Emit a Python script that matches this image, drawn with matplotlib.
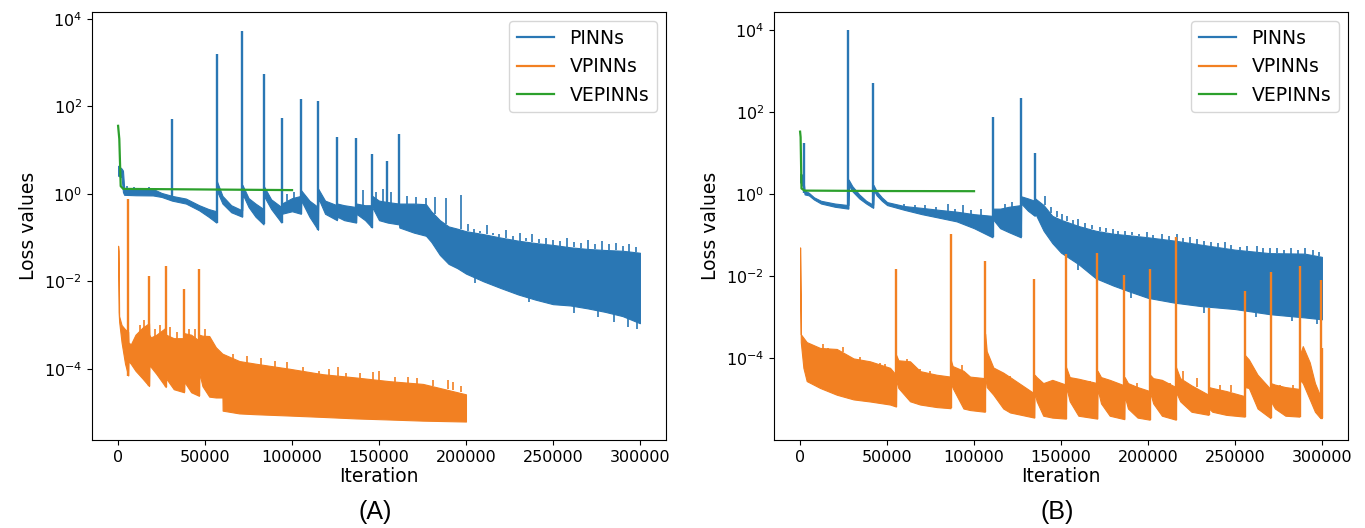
import matplotlib
matplotlib.use("Agg")
import matplotlib.pyplot as plt
from matplotlib.lines import Line2D
from matplotlib.ticker import NullLocator

# ---------------- panel (A) ----------------
# PINNs: band of the noisy loss (lower / upper edge) read at checkpoints
a_pinn_x = [0, 2000, 2800, 3500, 10000, 20000, 25000, 31000, 39000, 46600, 52000, 56500,
            56700, 60000, 65000, 71300,
            71500, 75000, 79000, 83600,
            83800, 88000, 93900,
            94100, 100000, 105100,
            105300, 110000, 114900,
            115100, 119000, 125800,
            126000, 130000, 136800,
            137000, 142000, 145900,
            146100, 150000, 155000, 161500,
            161700, 170000, 177000, 180000, 185000, 190000, 195000, 200000, 210000,
            220000, 230000, 240000, 250000, 260000, 270000, 280000, 290000, 300000]
a_pinn_lo = [2.6, 2.4, 1.1, 0.95, 0.93, 0.92, 0.85, 0.7, 0.6, 0.42, 0.3, 0.22,
             1.2, 0.6, 0.38, 0.3,
             1.0, 0.5, 0.3, 0.2,
             0.9, 0.45, 0.22,
             0.35, 0.4, 0.35,
             0.7, 0.3, 0.15,
             0.8, 0.35, 0.25,
             0.3, 0.25, 0.22,
             0.35, 0.25, 0.17,
             0.5, 0.25, 0.22, 0.2,
             0.17, 0.13, 0.11, 0.08, 0.04, 0.025, 0.02, 0.015, 0.01,
             0.007, 0.005, 0.0038, 0.003, 0.0028, 0.0024, 0.002, 0.0016, 0.0011]
a_pinn_hi = [4.4, 3.8, 3.4, 1.35, 1.3, 1.3, 1.05, 0.9, 0.78, 0.55, 0.45, 0.4,
             2.0, 0.9, 0.55, 0.42,
             1.6, 0.8, 0.6, 0.45,
             1.5, 0.75, 0.5,
             0.6, 0.8, 0.9,
             1.2, 0.7, 0.5,
             1.3, 0.7, 0.55,
             0.6, 0.55, 0.5,
             0.6, 0.55, 0.55,
             0.9, 0.7, 0.65, 0.6,
             0.6, 0.6, 0.58, 0.4, 0.25, 0.18, 0.16, 0.14, 0.12,
             0.1, 0.085, 0.075, 0.068, 0.06, 0.055, 0.052, 0.05, 0.045]
a_pinn_spike_x = [31100, 56600, 71400, 83700, 94000, 105200, 115000, 125900, 136900, 146000, 154700, 161600]
a_pinn_spike_top = [52, 1600, 5400, 560, 53, 147, 130, 20, 18.8, 8.1, 5.7, 23]
a_pinn_spike_base = [0.7, 0.22, 0.3, 0.2, 0.22, 0.35, 0.15, 0.25, 0.22, 0.17, 0.22, 0.2]
# small flickers on the band edges (top, bottom)
a_pinn_tick_x = [5000, 9000, 14000, 18000, 22000, 97000, 101000, 141000, 148500, 152200, 157000, 166000,
                 171000, 177000, 182000, 188700, 197000,
                 201000, 204500, 208000, 212000, 215500, 219000, 223000, 227000, 231000, 234500,
                 238000, 242000, 246000, 250000, 254000, 258000, 262000, 266000, 270000, 274000,
                 278000, 282000, 286000, 290000, 294000, 298000,
                 205000, 236000, 262000, 276000, 285000, 293000, 298500]
a_pinn_tick_top = [1.5, 1.4, 1.3, 1.45, 1.3, 1.0, 1.1, 1.2, 1.1, 1.3, 1.1, 0.9,
                   0.85, 0.8, 0.85, 0.8, 0.95,
                   0.2, 0.16, 0.14, 0.19, 0.13, 0.12, 0.15, 0.11, 0.13, 0.1,
                   0.12, 0.095, 0.1, 0.09, 0.085, 0.1, 0.08, 0.075, 0.09, 0.07,
                   0.085, 0.07, 0.075, 0.065, 0.07, 0.06,
                   0.013, 0.0045, 0.0027, 0.0022, 0.002, 0.0015, 0.0012]
a_pinn_tick_base = [1.2, 1.2, 1.2, 1.2, 1.2, 0.7, 0.7, 0.5, 0.6, 0.6, 0.6, 0.6,
                    0.6, 0.55, 0.35, 0.2, 0.16,
                    0.14, 0.13, 0.125, 0.12, 0.115, 0.105, 0.1, 0.09, 0.085, 0.085,
                    0.08, 0.075, 0.072, 0.068, 0.065, 0.062, 0.06, 0.058, 0.055, 0.054,
                    0.053, 0.052, 0.051, 0.05, 0.048, 0.046,
                    0.009, 0.0033, 0.0019, 0.0015, 0.0012, 0.0009, 0.0008]

# VPINNs
a_vp_x = [0, 300, 600, 2000, 4000, 5800,
          6000, 7300, 10000, 14000, 17800,
          18000, 18800, 22000, 27400,
          27600, 32000, 37900,
          38100, 42000, 46500,
          46700, 48500, 52400, 56200, 60000,
          60100, 69700, 79300, 98500, 117700, 136900, 156000, 175200, 200000]
a_vp_lo = [0.045, 2e-3, 1.2e-3, 4e-4, 1.3e-4, 7e-5,
           1.5e-4, 1.3e-4, 9e-5, 6e-5, 4e-5,
           1.2e-4, 1.1e-4, 7.6e-5, 3.8e-5,
           6e-5, 3.4e-5, 2.9e-5,
           5e-5, 2.9e-5, 2.4e-5,
           8e-5, 4e-5, 2.3e-5, 2.2e-5, 2.2e-5,
           1.1e-5, 9.5e-6, 9.1e-6, 8.5e-6, 7.9e-6, 7.3e-6, 6.9e-6, 6.5e-6, 6.2e-6]
a_vp_hi = [0.065, 0.05, 1.6e-3, 1e-3, 8e-4, 7e-4,
           4e-4, 3.6e-4, 6e-4, 8.7e-4, 1.1e-3,
           6e-4, 5.2e-4, 6e-4, 8.7e-4,
           6e-4, 5e-4, 5e-4,
           6.5e-4, 6e-4, 4.4e-4,
           6e-4, 5.7e-4, 5.6e-4, 3.1e-4, 2.2e-4,
           2.2e-4, 1.5e-4, 1.3e-4, 1e-4, 7.5e-5, 6.3e-5, 5.2e-5, 4.5e-5, 2.6e-5]
a_vp_spike_x = [5900, 17900, 27500, 38000, 46600]
a_vp_spike_top = [0.75, 0.013, 0.022, 0.0068, 0.019]
a_vp_spike_base = [7e-5, 4e-5, 3.8e-5, 2.9e-5, 2.4e-5]
a_vp_tick_x = [12500, 15000, 21000, 24000, 30000, 34000, 41000, 44000, 50000, 66000, 74000,
               82200, 90000, 97000, 106100, 115700, 121000, 126300, 131000, 139000, 146400,
               150000, 159000, 166600, 172000, 181000, 189600, 192500, 197000]
a_vp_tick_top = [1e-3, 1.3e-3, 8e-4, 1e-3, 9e-4, 7e-4, 8e-4, 8e-4, 8e-4, 2.2e-4, 2e-4,
                 1.8e-4, 1.5e-4, 1.4e-4, 1.1e-4, 9e-5, 1e-4, 1.1e-4, 8e-5, 8e-5, 8.5e-5,
                 9e-5, 6.5e-5, 6.6e-5, 6e-5, 5.5e-5, 5.5e-5, 4.9e-5, 4e-5]
a_vp_tick_base = [6e-4, 8e-4, 5e-4, 6e-4, 5e-4, 4e-4, 5e-4, 5e-4, 5e-4, 1.5e-4, 1.3e-4,
                  1.2e-4, 1.1e-4, 1e-4, 8e-5, 7e-5, 7e-5, 7e-5, 6e-5, 6e-5, 5.5e-5,
                  5e-5, 5e-5, 4.5e-5, 4.3e-5, 4e-5, 3.5e-5, 3.2e-5, 3e-5]

# VEPINNs
a_vep_x = [0, 700, 1500, 3000, 50000, 100000]
a_vep_y = [36, 18, 1.5, 1.3, 1.26, 1.22]

# ---------------- panel (B) ----------------
b_pinn_x = [0, 1500, 2400,
            2600, 5000, 8000, 12000, 20000, 27700,
            27900, 30000, 34000, 38000, 42000,
            42200, 44000, 47000, 50000, 60000, 70000, 80000, 90000, 100000, 110600,
            110800, 115000, 120000, 126900,
            127100, 131000, 134900,
            135100, 140000, 145000, 150000, 160000, 170000, 180000, 190000, 200000,
            215000, 230000, 250000, 270000, 290000, 300000]
b_pinn_lo = [2.0, 1.6, 1.1,
             1.0, 0.95, 0.75, 0.6, 0.5, 0.45,
             1.7, 1.2, 0.8, 0.6, 0.47,
             1.3, 0.95, 0.7, 0.55, 0.42, 0.33, 0.27, 0.22, 0.15, 0.09,
             0.25, 0.15, 0.12, 0.09,
             0.6, 0.4, 0.3,
             0.35, 0.13, 0.065, 0.038, 0.02, 0.009, 0.006, 0.0042, 0.003,
             0.0023, 0.0019, 0.0016, 0.0012, 0.001, 0.0009]
b_pinn_hi = [3.2, 3.0, 1.5,
             1.25, 1.1, 0.85, 0.7, 0.6, 0.55,
             2.3, 1.6, 1.0, 0.7, 0.56,
             1.7, 1.2, 0.85, 0.65, 0.52, 0.47, 0.42, 0.38, 0.33, 0.3,
             0.45, 0.45, 0.5, 0.55,
             0.9, 0.8, 0.7,
             0.8, 0.55, 0.3, 0.24, 0.17, 0.13, 0.11, 0.1, 0.09,
             0.075, 0.06, 0.045, 0.037, 0.036, 0.03]
b_pinn_spike_x = [2500, 27800, 42100, 110700, 127000, 135000]
b_pinn_spike_top = [17.5, 10500, 516, 76, 230, 10.3]
b_pinn_spike_base = [1.1, 0.45, 0.47, 0.09, 0.09, 0.3]
b_pinn_tick_x = [60000, 66000, 72000, 78000, 85000, 89000, 93900, 98000, 104000, 118000, 122000,
                 141000, 144000, 147500, 150400, 153300, 157000, 160000, 164000, 168000, 172400,
                 176000, 180000, 183000, 187000, 191000, 195000, 199200, 203000, 207900, 212000,
                 216500, 220000, 224000, 228000, 232000, 236000, 240000, 244000, 248000, 252900,
                 257000, 262400, 266000, 270000, 274000, 278000, 282000, 286000, 290000, 295000,
                 298500,
                 160000, 190000, 232000, 262000, 283000, 297000]
b_pinn_tick_top = [0.6, 0.55, 0.55, 0.5, 0.6, 0.45, 0.55, 0.42, 0.45, 0.6, 0.65,
                   0.9, 0.5, 0.4, 0.34, 0.3, 0.24, 0.25, 0.2, 0.18, 0.16,
                   0.15, 0.14, 0.13, 0.13, 0.12, 0.11, 0.12, 0.1, 0.11, 0.095,
                   0.11, 0.085, 0.09, 0.08, 0.075, 0.07, 0.065, 0.07, 0.06, 0.051,
                   0.055, 0.055, 0.05, 0.048, 0.05, 0.045, 0.05, 0.045, 0.048, 0.043,
                   0.04,
                   0.02, 0.0042, 0.0019, 0.0014, 0.0011, 0.0009]
b_pinn_tick_base = [0.42, 0.4, 0.38, 0.35, 0.33, 0.32, 0.3, 0.3, 0.3, 0.45, 0.5,
                    0.55, 0.35, 0.28, 0.24, 0.22, 0.19, 0.17, 0.15, 0.14, 0.13,
                    0.12, 0.11, 0.105, 0.1, 0.1, 0.095, 0.09, 0.085, 0.082, 0.078,
                    0.075, 0.07, 0.066, 0.062, 0.06, 0.056, 0.053, 0.05, 0.047, 0.045,
                    0.042, 0.04, 0.038, 0.037, 0.037, 0.036, 0.036, 0.036, 0.036, 0.033,
                    0.031,
                    0.014, 0.003, 0.0013, 0.001, 0.0008, 0.0007]

b_vp_x = [0, 400, 1900, 3800, 11500, 21100, 30700, 40200, 51700, 55100,
          55300, 56500, 63200, 69000, 78500, 86500,
          86700, 87700, 93900, 97700, 106200,
          106400, 107300, 111100, 116800, 120700, 134600,
          134800, 136000, 139800, 145000, 152800,
          153000, 155000, 160000, 170800,
          171000, 173000, 178000, 186400,
          186600, 188500, 194000, 201000,
          201200, 203000, 208000, 216000,
          216200, 218500, 225000, 234800,
          235000, 237000, 245000, 255600,
          255800, 258000, 263000, 270400,
          270600, 273000, 279000, 287100,
          287300, 289000, 293000, 296000, 299100,
          299300, 300000]
b_vp_lo = [0.04, 2.5e-4, 5.9e-5, 2.8e-5, 1.9e-5, 1.3e-5, 1e-5, 8.9e-6, 7.5e-6, 6.7e-6,
           3e-5, 1.9e-5, 9e-6, 7.5e-6, 6.5e-6, 6.1e-6,
           2.5e-5, 1.9e-5, 6e-6, 5.5e-6, 5e-6,
           4e-5, 2e-5, 1.3e-5, 6e-6, 4.8e-6, 3.6e-6,
           1.5e-5, 9e-6, 4e-6, 3.6e-6, 3.4e-6,
           2e-5, 9e-6, 4e-6, 3.4e-6,
           1.8e-5, 8e-6, 4e-6, 3.3e-6,
           1.2e-5, 6e-6, 3.6e-6, 3.2e-6,
           1.5e-5, 8e-6, 4e-6, 3.2e-6,
           1.5e-5, 9e-6, 5e-6, 4.2e-6,
           6e-6, 5e-6, 4.2e-6, 3.8e-6,
           2e-5, 1.9e-5, 6e-6, 3.5e-6,
           9e-6, 6e-6, 4e-6, 3.8e-6,
           3e-5, 2.5e-5, 1e-5, 5e-6, 3.5e-6,
           3.5e-6, 3.5e-6]
b_vp_hi = [0.051, 3.9e-4, 3.2e-4, 2.5e-4, 1.8e-4, 1.7e-4, 1e-4, 8.5e-5, 5.9e-5, 4e-5,
           1.2e-4, 9e-5, 8.5e-5, 4.9e-5, 4e-5, 3.6e-5,
           9e-5, 6.5e-5, 5e-5, 3.6e-5, 3.3e-5,
           4e-4, 1.5e-4, 6e-5, 4.5e-5, 3.5e-5, 1.4e-5,
           4e-5, 3.5e-5, 2.5e-5, 3e-5, 2.3e-5,
           6e-5, 3.5e-5, 3.2e-5, 2.5e-5,
           5e-5, 3.5e-5, 3e-5, 2.2e-5,
           3.5e-5, 2.5e-5, 2e-5, 1.6e-5,
           4e-5, 3.3e-5, 3e-5, 2e-5,
           6e-5, 3.3e-5, 2.2e-5, 1.3e-5,
           2e-5, 1.9e-5, 1.6e-5, 1.2e-5,
           1.2e-4, 9.4e-5, 4e-5, 1.8e-5,
           2.5e-5, 2.3e-5, 2e-5, 1.8e-5,
           1.2e-4, 2e-4, 8e-5, 2.5e-5, 1.2e-5,
           1.5e-5, 1.5e-5]
b_vp_spike_x = [55200, 86600, 106300, 134700, 152900, 170900, 186500, 201100, 216100,
                234900, 255700, 270500, 287200, 299200, 300000]
b_vp_spike_top = [0.015, 0.11, 0.024, 0.0086, 0.035, 0.037, 0.011, 0.015, 0.09,
                  0.0017, 0.0044, 0.013, 0.018, 0.0081, 1.8e-4]
b_vp_spike_base = [6.7e-6, 6.1e-6, 5e-6, 3.6e-6, 3.4e-6, 3.4e-6, 3.3e-6, 3.2e-6, 3.2e-6,
                   4.2e-6, 3.8e-6, 3.5e-6, 3.8e-6, 3.5e-6, 3.5e-6]
b_vp_tick_x = [13400, 16300, 24900, 34500, 46000, 48800, 61300, 69000, 74700, 92900, 95800,
               116800, 120700, 141800, 145600, 158000, 160900, 166700, 176300, 182000,
               193500, 205000, 207900, 212700, 220300, 228000, 241400, 248000, 262400,
               275900, 283600]
b_vp_tick_top = [2.2e-4, 1.8e-4, 1.9e-4, 1.1e-4, 7.7e-5, 7.2e-5, 9.5e-5, 5.4e-5, 5e-5, 6.8e-5, 4e-5,
                 4.4e-5, 3.7e-5, 2.4e-5, 2.5e-5, 3e-5, 2.9e-5, 2.8e-5, 3e-5, 2.5e-5,
                 2.5e-5, 2.8e-5, 3e-5, 2.5e-5, 5e-5, 3.3e-5, 2.3e-5, 2.3e-5, 2.8e-5,
                 2.3e-5, 2.3e-5]
b_vp_tick_base = [1.6e-4, 1.4e-4, 1.4e-4, 8e-5, 6e-5, 5.5e-5, 6e-5, 4e-5, 3.8e-5, 4.5e-5, 3e-5,
                  3e-5, 2.8e-5, 1.8e-5, 1.8e-5, 2.2e-5, 2.1e-5, 2e-5, 2e-5, 1.8e-5,
                  1.8e-5, 2e-5, 2e-5, 1.8e-5, 3e-5, 2e-5, 1.6e-5, 1.5e-5, 1.8e-5,
                  1.8e-5, 1.8e-5]

b_vep_x = [0, 300, 800, 2500, 50000, 100000]
b_vep_y = [34, 25, 1.4, 1.24, 1.21, 1.2]

C_PINN = "#2a77b4"
C_VP = "#f28022"
C_VEP = "#2ca02c"


def draw_band(ax, x, lo, hi, sx, stop, sbase, tx, ttop, tbase, color):
    ax.fill_between(x, lo, hi, color=color, edgecolor=color, lw=0.8)
    ax.vlines(sx, sbase, stop, color=color, lw=1.7)
    ax.vlines(tx, tbase, ttop, color=color, lw=1.2)


fig = plt.figure(figsize=(13.65, 5.28), dpi=100)
axA = fig.add_axes([92 / 1365, 88 / 528, 574 / 1365, 428 / 528])
axB = fig.add_axes([774 / 1365, 88 / 528, 574 / 1365, 428 / 528])

draw_band(axA, a_pinn_x, a_pinn_lo, a_pinn_hi, a_pinn_spike_x, a_pinn_spike_top, a_pinn_spike_base,
          a_pinn_tick_x, a_pinn_tick_top, a_pinn_tick_base, C_PINN)
draw_band(axA, a_vp_x, a_vp_lo, a_vp_hi, a_vp_spike_x, a_vp_spike_top, a_vp_spike_base,
          a_vp_tick_x, a_vp_tick_top, a_vp_tick_base, C_VP)
axA.plot(a_vep_x, a_vep_y, color=C_VEP, lw=1.6)

draw_band(axB, b_pinn_x, b_pinn_lo, b_pinn_hi, b_pinn_spike_x, b_pinn_spike_top, b_pinn_spike_base,
          b_pinn_tick_x, b_pinn_tick_top, b_pinn_tick_base, C_PINN)
draw_band(axB, b_vp_x, b_vp_lo, b_vp_hi, b_vp_spike_x, b_vp_spike_top, b_vp_spike_base,
          b_vp_tick_x, b_vp_tick_top, b_vp_tick_base, C_VP)
axB.plot(b_vep_x, b_vep_y, color=C_VEP, lw=1.6)

handles = [Line2D([], [], color=C_PINN, lw=1.6, label="PINNs"),
           Line2D([], [], color=C_VP, lw=1.6, label="VPINNs"),
           Line2D([], [], color=C_VEP, lw=1.6, label="VEPINNs")]

for ax, ylim in [(axA, (10 ** -5.63, 10 ** 4.16)), (axB, (10 ** -5.99, 10 ** 4.45))]:
    ax.set_yscale("log")
    ax.set_xlim(-15000, 315000)
    ax.set_ylim(*ylim)
    ax.set_xticks([0, 50000, 100000, 150000, 200000, 250000, 300000])
    ax.set_yticks([1e-4, 1e-2, 1e0, 1e2, 1e4])
    ax.yaxis.set_minor_locator(NullLocator())
    ax.tick_params(labelsize=11.5)
    ax.set_xlabel("Iteration", fontsize=13.5, labelpad=2)
    ax.set_ylabel("Loss values", fontsize=13.5)
    ax.legend(handles=handles, loc="upper right", fontsize=13.5)

fig.text(375 / 1365, 16 / 528, "(A)", ha="center", va="center", fontsize=18, family="Liberation Sans")
fig.text(1057 / 1365, 16 / 528, "(B)", ha="center", va="center", fontsize=18, family="Liberation Sans")

fig.savefig("out.png", dpi=100)
